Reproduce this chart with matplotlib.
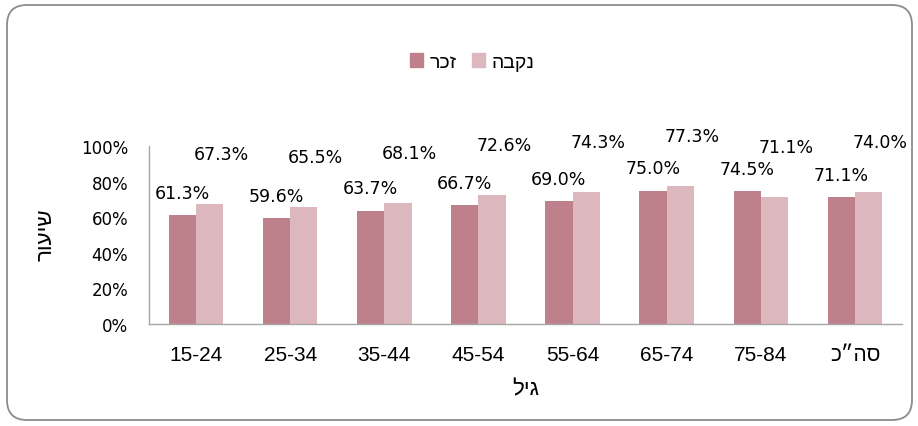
import matplotlib
matplotlib.use("Agg")
import matplotlib.pyplot as plt
import numpy as np
from matplotlib.patches import FancyBboxPatch, Patch

plt.rcParams["font.family"] = ["Liberation Sans", "DejaVu Sans"]

# data (hebrew strings stored in visual order, matplotlib has no bidi)
categories = ["15-24", "25-34", "35-44", "45-54", "55-64", "65-74", "75-84", "כ״הס"]
male = [61.3, 59.6, 63.7, 66.7, 69.0, 75.0, 74.5, 71.1]
female = [67.3, 65.5, 68.1, 72.6, 74.3, 77.3, 71.1, 74.0]
label_male = "רכז"      # זכר
label_female = "הבקנ"   # נקבה
xlabel = "ליג"          # גיל
ylabel = "רועיש"        # שיעור

c_male = "#BE818B"
c_female = "#DCB7BD"

fig = plt.figure(figsize=(9.18, 4.27), dpi=100)

# rounded chart border
border = FancyBboxPatch((0.07, 0.06), 9.05, 4.15,
                        boxstyle="round,pad=0,rounding_size=0.2",
                        transform=fig.dpi_scale_trans, fill=False,
                        edgecolor="#8C8C8C", linewidth=1.3)
fig.patches.append(border)

ax = fig.add_axes([149 / 918, 1 - 325 / 427, 753 / 918, 178 / 427])

x = np.arange(len(categories))
w = 0.29
ax.bar(x - w / 2, male, w, color=c_male, zorder=2)
ax.bar(x + w / 2, female, w, color=c_female, zorder=2)

# data labels
for xi, v in zip(x, male):
    ax.annotate("{:.1f}%".format(v), (xi - w / 2, v), xytext=(0, 16),
                textcoords="offset points", ha="center", va="center",
                fontsize=12.5, family="DejaVu Sans", clip_on=False)
for xi, v in zip(x, female):
    ax.annotate("{:.1f}%".format(v), (xi + w / 2, v), xytext=(8.5, 36),
                textcoords="offset points", ha="center", va="center",
                fontsize=12.5, family="DejaVu Sans", clip_on=False)

ax.set_xlim(-0.5, len(categories) - 0.5)
ax.set_ylim(0, 100)
ax.set_yticks(np.arange(0, 101, 20))
ax.set_yticklabels(["{}%".format(t) for t in range(0, 101, 20)],
                   fontsize=12, family="DejaVu Sans")
ax.set_xticks(x)
ax.set_xticklabels(categories, fontsize=15)
ax.tick_params(axis="both", length=0)
ax.tick_params(axis="y", pad=15)
ax.tick_params(axis="x", pad=15)

for s in ["top", "right"]:
    ax.spines[s].set_visible(False)
for s in ["left", "bottom"]:
    ax.spines[s].set_color("#A6A6A6")
    ax.spines[s].set_linewidth(1)

fig.text(526 / 918, 1 - 390 / 427, xlabel, ha="center", va="center", fontsize=16)
fig.text(46 / 918, 1 - 235 / 427, ylabel, ha="center", va="center",
         fontsize=16, rotation=90)

handles = [Patch(color=c_male), Patch(color=c_female)]
fig.legend(handles, [label_male, label_female], loc="center",
           bbox_to_anchor=(472 / 918, 1 - 63 / 427), ncol=2, frameon=False,
           fontsize=14, handlelength=0.7, handleheight=0.7,
           handletextpad=0.3, columnspacing=0.8)

plt.savefig("out.png", dpi=100)
